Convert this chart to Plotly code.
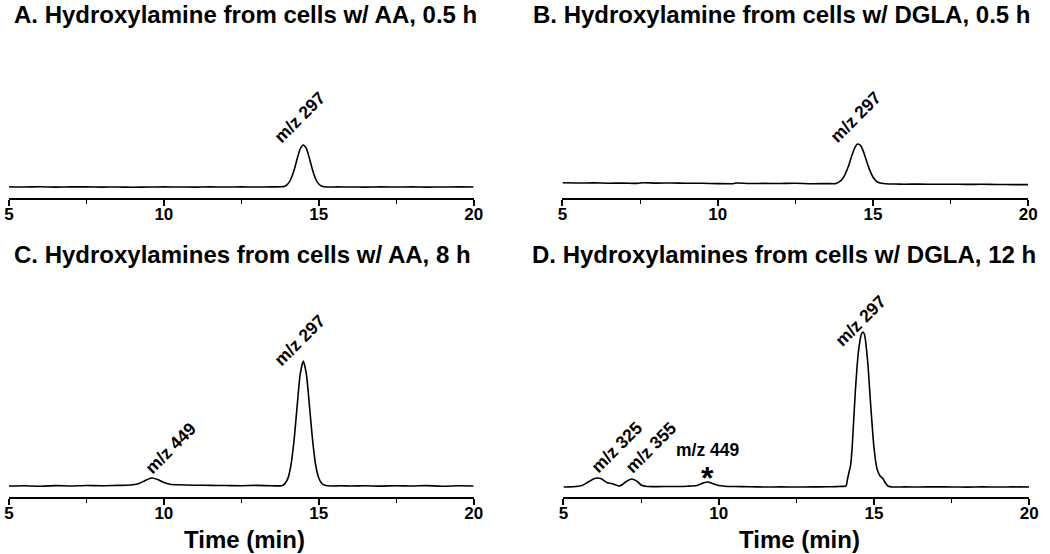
import plotly.graph_objects as go

# ---------------- data (intensity in arbitrary units, baseline ~0) ----------------
A_t = [5.0, 5.5, 6.0, 6.5, 7.0, 7.5, 8.0, 8.5, 9.0, 9.5, 10.0, 10.5, 11.0, 11.5, 12.0, 12.5, 13.0, 13.5, 13.8,
       13.9, 14.0, 14.1, 14.2, 14.3, 14.4, 14.5, 14.6, 14.7, 14.8, 14.9, 15.0, 15.1, 15.3, 15.6, 16.0, 16.5,
       17.0, 17.5, 18.0, 18.5, 19.0, 19.5, 20.0]
A_y = [0.3, 0.0, 0.2, -0.1, 0.1, 0.2, -0.1, 0.0, -0.2, 0.0, 0.1, 0.0, -0.1, 0.1, 0.0, 0.1, 0.0, 0.1, 0.2,
       0.8, 3.0, 8.0, 16.5, 28.0, 38.0, 42.0, 38.5, 28.5, 17.0, 8.0, 3.0, 0.8, 0.0, 0.1, 0.0, -0.1,
       0.1, 0.0, 0.1, -0.1, 0.0, 0.1, 0.0]

B_t = [5.0, 5.5, 6.0, 6.5, 7.0, 7.4, 7.6, 8.0, 8.5, 9.0, 9.5, 10.0, 10.5, 10.6, 11.0, 11.5, 12.0, 12.5, 13.0,
       13.5, 13.8, 13.9, 14.0, 14.1, 14.2, 14.3, 14.4, 14.5, 14.6, 14.7, 14.8, 14.9, 15.0, 15.1, 15.2, 15.4,
       15.7, 16.0, 16.5, 17.0, 17.5, 18.0, 18.5, 19.0, 19.5, 20.0]
B_y = [1.2, 1.0, 1.1, 0.8, 0.9, 0.6, 1.3, 0.9, 1.0, 0.8, 0.7, 0.4, 0.3, 1.0, 0.5, 0.6, 0.5, 0.7, 0.3,
       0.4, 0.4, 1.9, 4.4, 9.3, 16.9, 26.4, 35.2, 40.0, 38.6, 31.9, 22.5, 13.6, 7.0, 3.2, 1.2, 0.2,
       0.0, -0.2, -0.1, -0.3, -0.2, -0.4, -0.3, -0.5, -0.6, -0.6]

C_t = [5.0, 5.5, 6.0, 6.5, 7.0, 7.5, 8.0, 8.5, 8.8, 9.0, 9.2, 9.4, 9.6, 9.8, 10.0, 10.2, 10.5, 11.0, 11.5,
       12.0, 12.5, 13.0, 13.5, 13.8, 13.9, 14.0, 14.1, 14.2, 14.3, 14.4, 14.5, 14.6, 14.7, 14.8, 14.9, 15.0,
       15.1, 15.2, 15.4, 15.7, 16.0, 16.5, 17.0, 17.5, 18.0, 18.5, 19.0, 19.5, 20.0]
C_y = [0.0, 0.3, -0.2, 0.4, 0.0, 0.5, 0.2, 0.6, 0.8, 1.2, 2.5, 5.5, 8.0, 6.5, 3.5, 1.8, 1.2, 0.8, 0.6,
       0.5, 0.3, 0.6, 0.2, 0.3, 2.1, 7.4, 20.4, 45.0, 79.0, 111.6, 125.0, 112.0, 80.0, 46.0, 21.0, 8.0,
       2.5, 0.8, 0.0, 0.3, 0.0, 0.2, -0.1, 0.3, 0.0, 0.4, -0.2, 0.2, 0.0]

D_t = [5.0, 5.3, 5.6, 5.8, 6.0, 6.1, 6.2, 6.4, 6.6, 6.8, 6.9, 7.0, 7.2, 7.4, 7.5, 7.7, 8.0, 8.5, 9.0, 9.3,
       9.5, 9.65, 9.8, 10.0, 10.2, 10.5, 11.0, 11.5, 12.0, 12.5, 13.0, 13.5, 13.8, 14.0, 14.1, 14.15, 14.2,
       14.25, 14.3, 14.4, 14.5, 14.6, 14.65, 14.7, 14.8, 14.9, 15.0, 15.1, 15.2, 15.3, 15.35, 15.45, 15.6,
       16.0, 16.5, 17.0, 17.5, 18.0, 18.5, 19.0, 19.5, 20.0]
D_y = [0.0, 0.2, 1.5, 5.0, 8.5, 9.0, 8.5, 4.5, 3.0, 1.0, 2.5, 5.0, 8.0, 5.0, 2.0, 0.5, 0.4, 0.5, 0.8, 1.5,
       4.0, 5.0, 3.5, 1.5, 0.8, 0.5, 0.2, 0.0, 0.1, 0.0, 0.1, 0.2, 0.4, 0.6, 1.0, 8.0, 15.0,
       22.0, 40.0, 95.0, 135.0, 153.0, 155.0, 152.0, 125.0, 80.0, 40.0, 18.0, 11.0, 8.0, 5.0, 1.0, 0.0,
       0.1, 0.0, 0.2, 0.0, -0.1, 0.1, 0.0, 0.1, 0.0]

titles = ["A. Hydroxylamine from cells w/ AA, 0.5 h",
          "B. Hydroxylamine from cells w/ DGLA, 0.5 h",
          "C. Hydroxylamines from cells w/ AA, 8 h",
          "D. Hydroxylamines from cells w/ DGLA, 12 h"]
x_label = "Time (min)"
x_ticks = [5, 10, 15, 20]

# peak labels: (panel, time, intensity, text, angle)
peak_labels = [
    (0, 14.39, 70, "m/z 297", -45),
    (1, 14.44, 67, "m/z 297", -45),
    (2, 14.39, 146, "m/z 297", -45),
    (2, 10.22, 38, "m/z 449", -45),
    (3, 14.56, 166, "m/z 297", -45),
    (3, 6.72, 40, "m/z 325", -45),
    (3, 7.83, 40, "m/z 355", -45),
    (3, 9.64, 37, "m/z 449", 0),
]
star_label = (3, 9.64, 9, "*")

# ---------------- layout geometry ----------------
W, H = 1050, 554
FONT = "Liberation Sans, Arial, sans-serif"

panels = [
    dict(x0=4, x1=475, axis_y=198, top=60, yr=(-11, 127)),
    dict(x0=565, x1=1037, axis_y=198, top=60, yr=(-14, 124)),
    dict(x0=4, x1=475, axis_y=497, top=300, yr=(-11, 186)),
    dict(x0=566, x1=1038, axis_y=497, top=300, yr=(-10, 187)),
]
data = [(A_t, A_y), (B_t, B_y), (C_t, C_y), (D_t, D_y)]

fig = go.Figure()
layout = dict(width=W, height=H, margin=dict(l=0, r=0, t=0, b=0),
              paper_bgcolor="white", plot_bgcolor="white", showlegend=False,
              font=dict(family=FONT, color="black"))

annotations = []
for i, (p, (t, y)) in enumerate(zip(panels, data)):
    sfx = "" if i == 0 else str(i + 1)
    fig.add_trace(go.Scatter(x=t, y=y, mode="lines", xaxis="x" + sfx, yaxis="y" + sfx,
                             line=dict(color="black", width=1.6, shape="spline", smoothing=0.6),
                             hoverinfo="skip"))
    layout["xaxis" + sfx] = dict(
        domain=[p["x0"] / W, p["x1"] / W], anchor="y" + sfx, range=[5, 20],
        tickmode="array", tickvals=x_ticks, ticktext=[str(v) for v in x_ticks],
        showline=True, linecolor="black", linewidth=1.5, ticks="outside", ticklen=6,
        tickwidth=1.5, tickcolor="black", showgrid=False, zeroline=False,
        ticklabelstandoff=-6,
        tickfont=dict(family=FONT, size=17, color="black", weight="bold"),
        minor=dict(dtick=2.5, tick0=5, ticks="outside", ticklen=4, tickwidth=1.3,
                   tickcolor="black", showgrid=False),
        fixedrange=True)
    layout["yaxis" + sfx] = dict(
        domain=[1 - p["axis_y"] / H, 1 - p["top"] / H], anchor="x" + sfx,
        range=list(p["yr"]), visible=False, fixedrange=True)

title_pos = [(7, 14), (533, 14), (7, 254), (532, 254)]
for txt, (px, py) in zip(titles, title_pos):
    annotations.append(dict(text=txt, xref="paper", yref="paper", x=px / W, y=1 - py / H,
                            xanchor="left", yanchor="middle", showarrow=False,
                            font=dict(family=FONT, size=24, color="black", weight="bold")))

for i in (2, 3):
    p = panels[i]
    annotations.append(dict(text=x_label, xref="paper", yref="paper",
                            x=(p["x0"] + p["x1"]) / 2 / W + 3 / W, y=1 - 539 / H,
                            xanchor="center", yanchor="middle", showarrow=False,
                            font=dict(family=FONT, size=24, color="black", weight="bold")))

for (i, tx, ty, txt, ang) in peak_labels:
    sfx = "" if i == 0 else str(i + 1)
    annotations.append(dict(text=txt, xref="x" + sfx, yref="y" + sfx, x=tx, y=ty,
                            xanchor="center", yanchor="middle", showarrow=False, textangle=ang,
                            font=dict(family=FONT, size=17.5, color="black", weight="bold")))

i, tx, ty, txt = star_label
annotations.append(dict(text=txt, xref="x4", yref="y4", x=tx, y=ty, xanchor="center",
                        yanchor="middle", showarrow=False,
                        font=dict(family=FONT, size=32, color="black", weight="bold")))

layout["annotations"] = annotations
fig.update_layout(**layout)
fig.write_html("out.html", config={"displayModeBar": False},
               post_script="document.body.style.margin='0';document.body.style.overflow='hidden';")
